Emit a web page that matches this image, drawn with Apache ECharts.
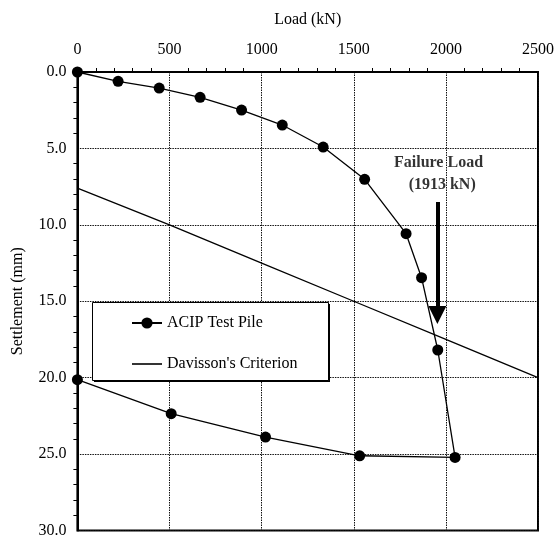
<!DOCTYPE html>
<html>
<head>
<meta charset="utf-8">
<script src="https://cdn.jsdelivr.net/npm/echarts@6/dist/echarts.min.js"></script>
<style>
html,body{margin:0;padding:0;background:#fff;}
#c{width:557px;height:542px;}
</style>
</head>
<body>
<div id="c"></div>
<script>
// Data
var xTickValues = [0, 500, 1000, 1500, 2000, 2500];
var yTickValues = [0, 5, 10, 15, 20, 25, 30];
var acipLoad = [0, 221, 444, 666, 891, 1112, 1334, 1559, 1784, 1868, 1956, 2050, 1532, 1021, 509, 0];
var acipSettlement = [0, 0.61, 1.05, 1.66, 2.49, 3.47, 4.91, 7.02, 10.58, 13.46, 18.19, 25.22, 25.11, 23.89, 22.36, 20.13];
var davissonLoad = [0, 500, 1000, 1500, 2000, 2500];
var davissonSettlement = [7.6, 10.0, 12.5, 15.0, 17.5, 20.0];
var arrowLoad = [1954, 1954];
var arrowSettlement = [8.5, 15.9];
var noteTexts = ['Failure Load', '(1913 kN)'];
var noteLoad = [1960, 1980];
var noteSettlement = [5.96, 7.41];

var FONT = '"Liberation Serif", "Times New Roman", serif';

function pairs(xs, ys) { return xs.map(function (x, i) { return [x, ys[i]]; }); }

var chart = echarts.init(document.getElementById('c'), null, { renderer: 'canvas' });
chart.setOption({
  animation: false,
  backgroundColor: '#fff',
  textStyle: { fontFamily: FONT, color: '#000' },
  grid: {
    left: 77.4, top: 72, right: 17, bottom: 11.5,
    show: true, borderColor: '#000', borderWidth: 2, backgroundColor: 'transparent'
  },
  graphic: [
    { type: 'rect', left: 94, top: 304, z: 10, silent: true,
      shape: { width: 236, height: 78 }, style: { fill: '#000' } },
    { type: 'rect', left: 92, top: 302, z: 11, silent: true,
      shape: { width: 236, height: 78 }, style: { fill: '#fff', stroke: '#000', lineWidth: 1 } }
  ],
  legend: {
    data: [
      { name: 'ACIP Test Pile' },
      { name: "Davisson's Criterion", icon: 'path://M0,0 L30,0 L30,1.6 L0,1.6 Z',
        itemStyle: { color: '#000' } }
    ],
    orient: 'vertical',
    left: 92, top: 302,
    itemWidth: 30, itemHeight: 14, itemGap: 25,
    padding: [13, 27, 11, 39],
    borderWidth: 0,
    backgroundColor: 'transparent',
    selectedMode: false,
    z: 20,
    textStyle: { fontFamily: FONT, fontSize: 16, color: '#000' }
  },
  xAxis: {
    type: 'value', position: 'top',
    min: xTickValues[0], max: xTickValues[xTickValues.length - 1], interval: 500,
    name: 'Load (kN)', nameLocation: 'middle', nameGap: 44,
    nameTextStyle: { fontFamily: FONT, fontSize: 16, color: '#000' },
    axisLine: { show: true, lineStyle: { color: '#000', width: 2 } },
    axisTick: { show: false },
    minorTick: { show: true, splitNumber: 5, length: 4, lineStyle: { color: '#000', width: 1 } },
    axisLabel: { fontFamily: FONT, fontSize: 16, color: '#000', margin: 14,
      formatter: function (v) { return String(v); } },
    splitLine: { show: true, lineStyle: { color: '#111', width: 1, type: [1.5, 1] } }
  },
  yAxis: {
    type: 'value', inverse: true,
    min: yTickValues[0], max: yTickValues[yTickValues.length - 1], interval: 5,
    name: 'Settlement (mm)', nameLocation: 'middle', nameGap: 52,
    nameTextStyle: { fontFamily: FONT, fontSize: 16, color: '#000' },
    axisLine: { show: true, lineStyle: { color: '#000', width: 2 } },
    axisTick: { show: false },
    minorTick: { show: true, splitNumber: 5, length: 4, lineStyle: { color: '#000', width: 1 } },
    axisLabel: { fontFamily: FONT, fontSize: 16, color: '#000', margin: 11,
      formatter: function (v) { return v.toFixed(1); } },
    splitLine: { show: true, lineStyle: { color: '#111', width: 1, type: [1.5, 1] } }
  },
  series: [
    {
      name: "Davisson's Criterion", type: 'line',
      data: pairs(davissonLoad, davissonSettlement),
      symbol: 'none', showSymbol: false, clip: false,
      lineStyle: { color: '#000', width: 1.3 },
      itemStyle: { color: '#000' }, z: 3
    },
    {
      name: 'ACIP Test Pile', type: 'line',
      data: pairs(acipLoad, acipSettlement),
      symbol: 'circle', symbolSize: 11, clip: false,
      lineStyle: { color: '#000', width: 1.3 },
      itemStyle: { color: '#000' }, z: 4
    },
    {
      name: 'arrow', type: 'lines', coordinateSystem: 'cartesian2d',
      data: [{ coords: pairs(arrowLoad, arrowSettlement) }],
      symbol: ['none', 'triangle'], symbolSize: [16, 18],
      lineStyle: { color: '#000', width: 4, opacity: 1 },
      silent: true, z: 5
    },
    {
      name: 'notes', type: 'scatter',
      data: noteTexts.map(function (t, i) { return { name: t, value: [noteLoad[i], noteSettlement[i]] }; }),
      symbolSize: 0, silent: true, clip: false,
      label: {
        show: true, position: 'inside', formatter: '{b}',
        fontFamily: FONT, fontSize: 16, fontWeight: 'bold', color: '#000'
      },
      z: 6
    }
  ]
});
</script>
</body>
</html>
